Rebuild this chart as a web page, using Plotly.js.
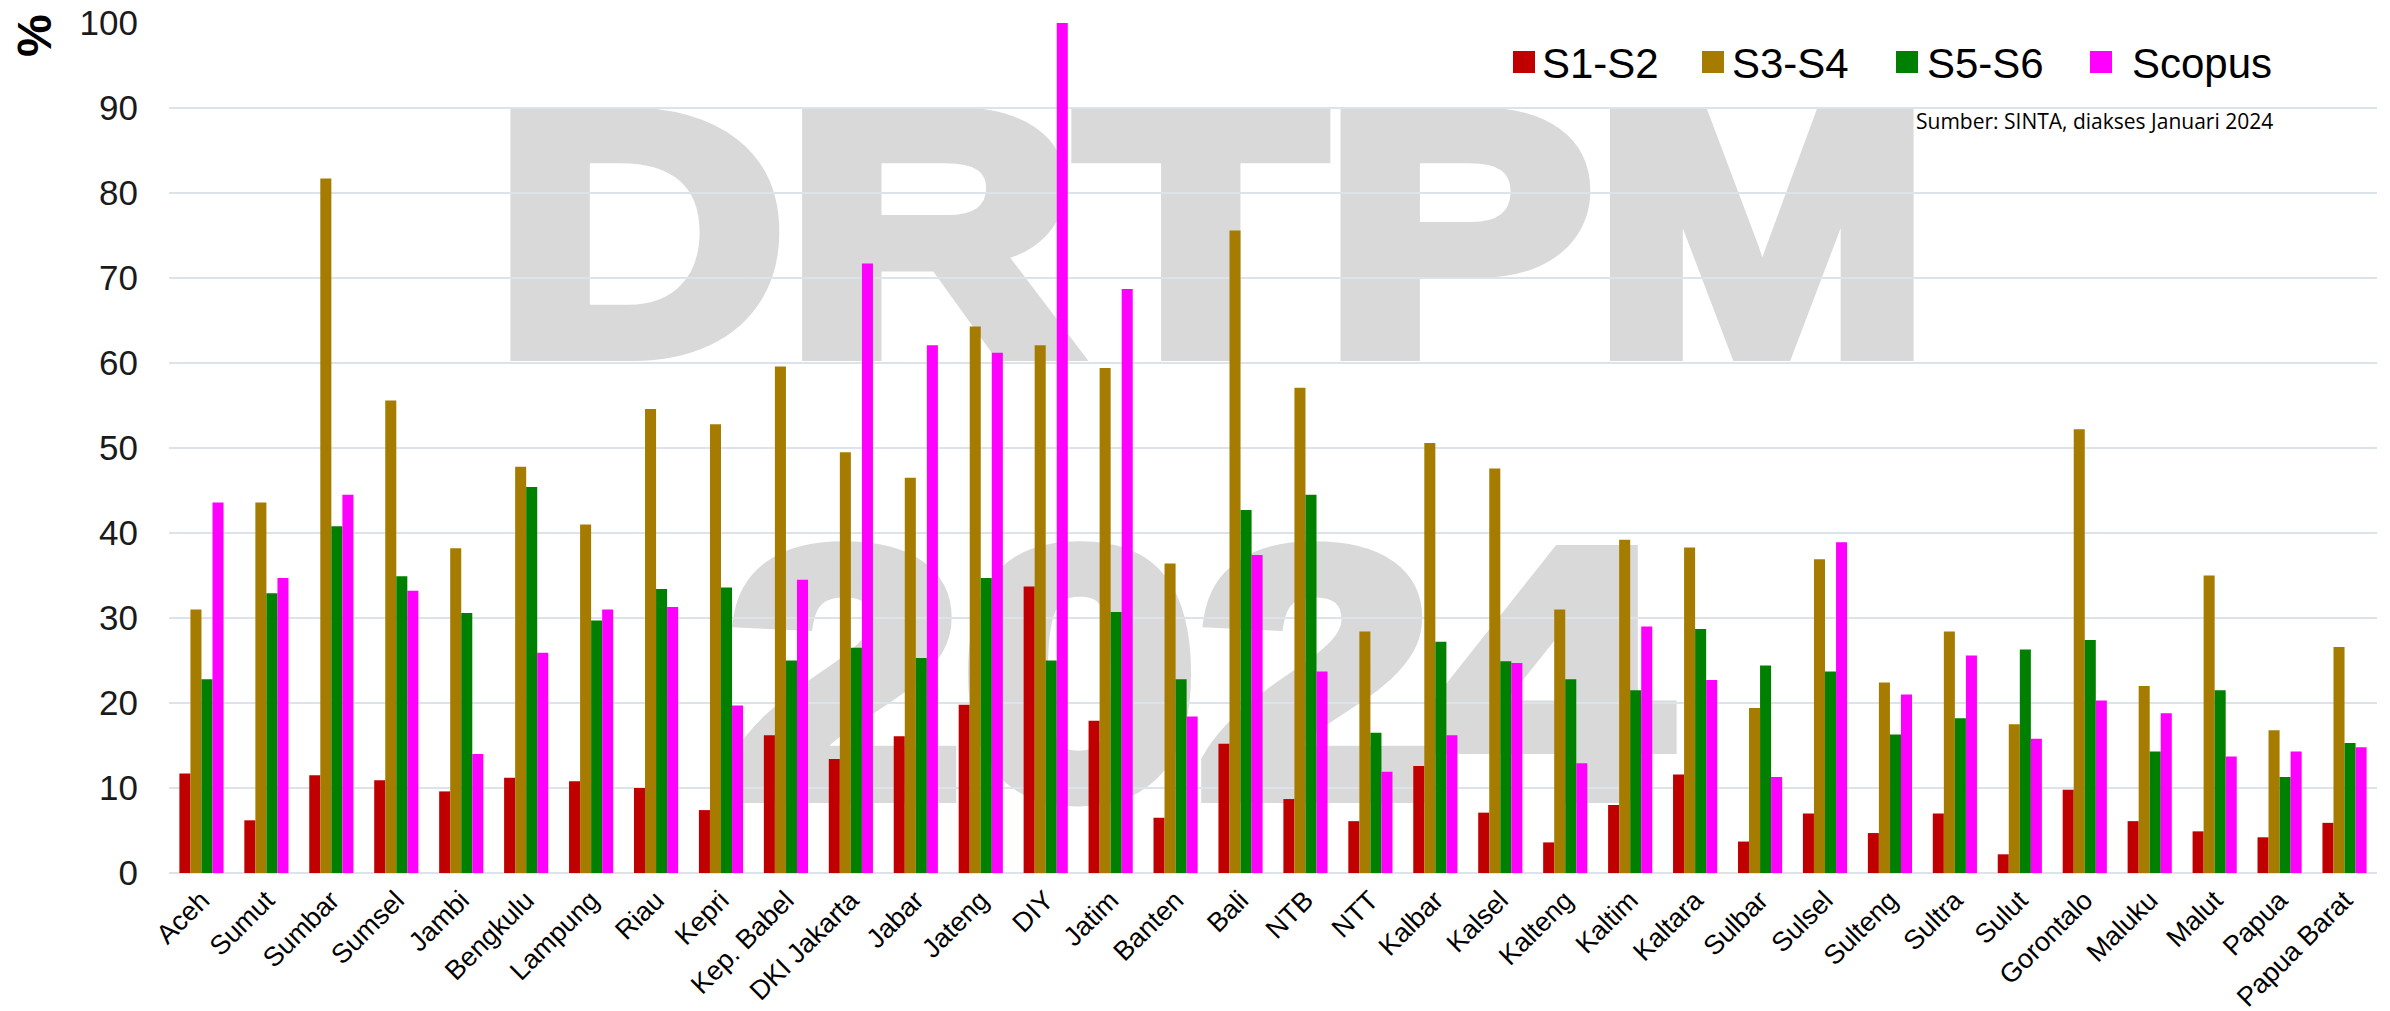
<!DOCTYPE html>
<html>
<head>
<meta charset="utf-8">
<script src="https://cdn.plot.ly/plotly-3.0.1.min.js"></script>
<style>
  html, body { margin: 0; padding: 0; background: #ffffff; }
  #wrap { position: relative; width: 2390px; height: 1011px; }
  #wm { position: absolute; left: 0; top: 0; z-index: 0; }
  #wm text { font-family: 'Liberation Sans', Arial, sans-serif; font-weight: 700; fill: #d9d9d9; stroke: #d9d9d9; stroke-width: 18px; stroke-linejoin: miter; }
  #chart { position: absolute; left: 0; top: 0; width: 2390px; height: 1011px; z-index: 1; }
</style>
</head>
<body>
<div id="wrap">
  <svg id="wm" width="2390" height="1011" xmlns="http://www.w3.org/2000/svg">
    <text x="494" y="352" font-size="343" textLength="1436" lengthAdjust="spacingAndGlyphs">DRTPM</text>
    <text x="727" y="794" font-size="349" textLength="941" lengthAdjust="spacingAndGlyphs">2024</text>
  </svg>
  <div id="chart"></div>
</div>
<script>
const categories = ['Aceh','Sumut','Sumbar','Sumsel','Jambi','Bengkulu','Lampung','Riau','Kepri','Kep. Babel',
  'DKI Jakarta','Jabar','Jateng','DIY','Jatim','Banten','Bali','NTB','NTT','Kalbar','Kalsel','Kalteng',
  'Kaltim','Kaltara','Sulbar','Sulsel','Sulteng','Sultra','Sulut','Gorontalo','Maluku','Malut','Papua','Papua Barat'];

const s1s2 = [11.7, 6.2, 11.5, 10.9, 9.6, 11.2, 10.8, 10.0, 7.4, 16.2,
  13.4, 16.1, 19.8, 33.7, 17.9, 6.5, 15.2, 8.7, 6.1, 12.6, 7.1, 3.6,
  8.0, 11.6, 3.7, 7.0, 4.7, 7.0, 2.2, 9.8, 6.1, 4.9, 4.2, 5.9];

const s3s4 = [31.0, 43.6, 81.7, 55.6, 38.2, 47.8, 41.0, 54.6, 52.8, 59.6,
  49.5, 46.5, 64.3, 62.1, 59.4, 36.4, 75.6, 57.1, 28.4, 50.6, 47.6, 31.0,
  39.2, 38.3, 19.4, 36.9, 22.4, 28.4, 17.5, 52.2, 22.0, 35.0, 16.8, 26.6];

const s5s6 = [22.8, 32.9, 40.8, 34.9, 30.6, 45.4, 29.7, 33.4, 33.6, 25.0,
  26.5, 25.3, 34.7, 25.0, 30.7, 22.8, 42.7, 44.5, 16.5, 27.2, 24.9, 22.8,
  21.5, 28.7, 24.4, 23.7, 16.3, 18.2, 26.3, 27.4, 14.3, 21.5, 11.3, 15.3];

const scopus = [43.6, 34.7, 44.5, 33.2, 14.0, 25.9, 31.0, 31.3, 19.7, 34.5,
  71.7, 62.1, 61.2, 100.0, 68.7, 18.4, 37.4, 23.7, 11.9, 16.2, 24.7, 12.9,
  29.0, 22.7, 11.3, 38.9, 21.0, 25.6, 15.8, 20.3, 18.8, 13.7, 14.3, 14.8];

const seriesNames = ['S1-S2', 'S3-S4', 'S5-S6', 'Scopus'];
const seriesColors = ['#c00000', '#a67c00', '#008000', '#ff00ff'];
const seriesValues = [s1s2, s3s4, s5s6, scopus];

const yTickVals = [0, 10, 20, 30, 40, 50, 60, 70, 80, 90, 100];
const yAxisTitle = '%';
const sourceNote = 'Sumber: SINTA, diakses Januari 2024';

// plot area in pixels
const W = 2390, H = 1011;
const L = 169, R = 13, T = 23, B = 138;
const pw = W - L - R, ph = H - T - B;
const px = x => (x - L) / pw;
const py = y => (H - B - y) / ph;

const traces = seriesNames.map((name, i) => ({
  type: 'bar',
  name: name,
  x: categories,
  y: seriesValues[i],
  marker: { color: seriesColors[i] },
  showlegend: false
}));

// custom legend (layout positions)
const legSquareLeft = [1513, 1702, 1896, 2090];
const legTextLeft = [1540, 1730, 1925, 2130];
const legY = 62;
const shapes = [];
const annotations = [];
seriesNames.forEach((name, i) => {
  shapes.push({
    type: 'rect', xref: 'paper', yref: 'paper',
    x0: px(legSquareLeft[i]), x1: px(legSquareLeft[i] + 22),
    y0: py(legY + 11), y1: py(legY - 11),
    fillcolor: seriesColors[i], line: { width: 0 }
  });
  annotations.push({
    xref: 'paper', yref: 'paper', x: px(legTextLeft[i]), y: py(legY + 2),
    xanchor: 'left', yanchor: 'middle', showarrow: false,
    text: name,
    font: { family: 'Liberation Sans, Arial, sans-serif', size: 42, color: '#000000' }
  });
});
annotations.push({
  xref: 'paper', yref: 'paper', x: px(1914), y: py(121),
  xanchor: 'left', yanchor: 'middle', showarrow: false,
  text: sourceNote,
  font: { family: 'Liberation Sans Narrow, Open Sans, sans-serif', size: 21, color: '#000000' }
});
annotations.push({
  xref: 'paper', yref: 'paper', x: px(35), y: py(36),
  xanchor: 'center', yanchor: 'middle', showarrow: false,
  textangle: -90,
  text: '<b>' + yAxisTitle + '</b>',
  font: { family: 'Liberation Sans, Arial, sans-serif', size: 48, color: '#000000' }
});

const layout = {
  width: W, height: H,
  margin: { l: L, r: R, t: T, b: B, pad: 0 },
  paper_bgcolor: 'rgba(0,0,0,0)',
  plot_bgcolor: 'rgba(0,0,0,0)',
  barmode: 'group',
  bargap: 0.32,
  bargroupgap: 0,
  showlegend: false,
  xaxis: {
    type: 'category',
    tickangle: -45,
    tickfont: { family: 'Liberation Sans, Arial, sans-serif', size: 27, color: '#000000' },
    showgrid: false,
    showline: false,
    zeroline: false,
    ticks: '',
    ticklabelstandoff: 5,
    automargin: false,
    fixedrange: true
  },
  yaxis: {
    range: [0, 100],
    tickvals: yTickVals,
    ticktext: yTickVals.map(String),
    tickfont: { family: 'Liberation Sans, Arial, sans-serif', size: 35, color: '#1a1a1a' },
    showgrid: true,
    gridcolor: '#dde3ea',
    gridwidth: 2,
    zeroline: true,
    zerolinecolor: '#dde3ea',
    zerolinewidth: 2,
    showline: false,
    ticks: '',
    ticklabelstandoff: 30,
    automargin: false,
    fixedrange: true
  },
  shapes: shapes,
  annotations: annotations
};

Plotly.newPlot('chart', traces, layout, { staticPlot: true, displayModeBar: false });
</script>
</body>
</html>
